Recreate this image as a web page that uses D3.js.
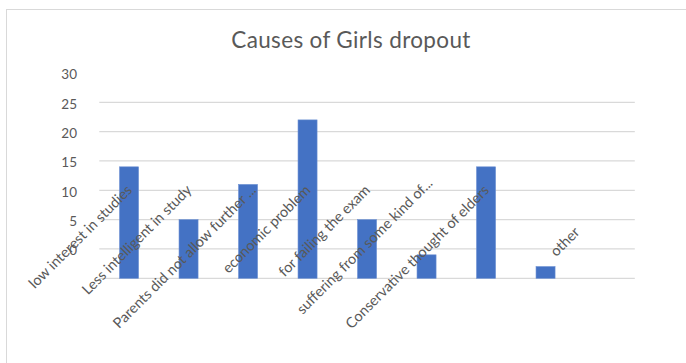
<!DOCTYPE html>
<html>
<head>
<meta charset="utf-8">
<script src="https://cdn.jsdelivr.net/npm/d3@7/dist/d3.min.js"></script>
<style>
  html, body { margin: 0; padding: 0; background: #fff; }
  svg { display: block; }
</style>
</head>
<body>
<svg id="chart" width="686" height="363"></svg>
<script>
// Survey: reasons given for girls leaving school
const chartTitle = "Causes of Girls dropout";
const categories = [
  "low interest in studies",
  "Less intelligent in study",
  "Parents did not allow further ...",
  "economic problem",
  "for failing the exam",
  "suffering from some kind of...",
  "Conservative thought of elders",
  "other",
  ""
];
const values = [19, 10, 16, 27, 10, 4, 19, 2, null];
const yTickValues = [0, 5, 10, 15, 20, 25, 30];
const yTickLabels = ["0", "5", "10", "15", "20", "25", "30"];

const W = 686, H = 363;
const FONT = "Lato, 'Open Sans', sans-serif";
const TEXT = "#595959";
const GRID = "#d9d9d9";
const BAR = "#4472C4";

const svg = d3.select("#chart");

// chart frame (runs off the right and bottom edges)
svg.append("rect")
  .attr("x", 6.5).attr("y", 9.5)
  .attr("width", W + 20).attr("height", H + 20)
  .attr("fill", "#fff").attr("stroke", GRID).attr("stroke-width", 1);

const plot = { left: 99.3, right: 634.8, top: 102.3, bottom: 278.3 };

const x = d3.scaleBand()
  .domain(categories.map((c, i) => i))
  .range([plot.left, plot.right])
  .paddingInner(0.68)
  .paddingOuter(0.34);

const y = d3.scaleLinear()
  .domain([0, 30])
  .range([plot.bottom, plot.top]);

// title
svg.append("text")
  .attr("x", 351).attr("y", 47.5)
  .attr("text-anchor", "middle")
  .attr("font-family", FONT)
  .attr("font-size", 22.5)
  .attr("letter-spacing", 0.35)
  .attr("fill", TEXT)
  .text(chartTitle);

// horizontal gridlines
svg.append("g")
  .selectAll("line")
  .data(yTickValues)
  .join("line")
  .attr("x1", plot.left).attr("x2", plot.right)
  .attr("y1", d => y(d)).attr("y2", d => y(d))
  .attr("stroke", GRID).attr("stroke-width", 1.3);

// value axis labels, sitting one step above their gridlines
const step = y(0) - y(5);
const yAxis = d3.axisLeft(y)
  .tickValues(yTickValues)
  .tickFormat((d, i) => yTickLabels[i])
  .tickSize(0)
  .tickPadding(0);
const gy = svg.append("g")
  .attr("transform", `translate(77, ${-step + 1.5})`)
  .call(yAxis);
gy.select(".domain").remove();
gy.selectAll("text")
  .attr("font-family", FONT)
  .attr("font-size", 13.5)
  .attr("fill", TEXT);

// bars
svg.append("g")
  .selectAll("rect")
  .data(values.map((v, i) => ({ v, i })).filter(d => d.v != null))
  .join("rect")
  .attr("x", d => x(d.i))
  .attr("width", x.bandwidth())
  .attr("y", d => y(d.v))
  .attr("height", d => y(0) - y(d.v))
  .attr("fill", BAR)
  .attr("stroke", "#6b8fd3")
  .attr("stroke-width", 0.6);

// category labels, rotated -45deg and anchored at their end
const labelBaseY = 191;
const labelNudge = { 2: [5, 0], 5: [3, -7], 7: [31, 42] };
svg.append("g")
  .selectAll("text")
  .data(categories.map((c, i) => ({ c, i })).filter(d => d.c !== ""))
  .join("text")
  .attr("transform", d => {
    const n = labelNudge[d.i] || [0, 0];
    const ax = x(d.i) + x.bandwidth() / 2 + 4 + n[0];
    const ay = labelBaseY + n[1];
    return `translate(${ax},${ay}) rotate(-45)`;
  })
  .attr("text-anchor", "end")
  .attr("font-family", FONT)
  .attr("font-size", 14.5)
  .attr("fill", TEXT)
  .text(d => d.c);
</script>
</body>
</html>
